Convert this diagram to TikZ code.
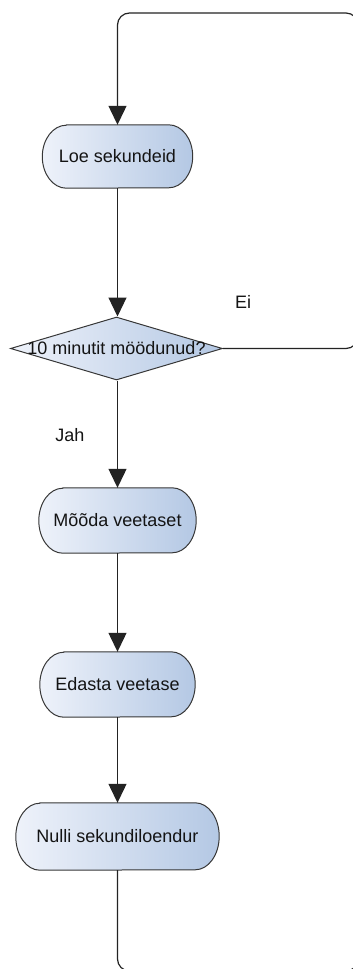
\documentclass[tikz,border=0pt]{standalone}
\usepackage{fontspec}
\setmainfont{Liberation Sans}
\usetikzlibrary{arrows.meta,shapes.geometric,calc,backgrounds}
\definecolor{boxedge}{RGB}{55,55,55}
\definecolor{flowline}{RGB}{35,35,35}
\definecolor{shadelight}{RGB}{238,242,250}
\definecolor{shadedark}{RGB}{180,200,228}
\definecolor{labeltext}{RGB}{20,20,20}
% outline of a step box: straight top and bottom, elliptic ends
% #1 node name, #2 half height
\newcommand\stepoutline[2]{%
  \path[stepshape] ($(#1.north west)+(24pt,0pt)$) -- ($(#1.north east)+(-24pt,0pt)$)
    arc[start angle=90,end angle=-90,x radius=24pt,y radius=#2]
    -- ($(#1.south west)+(24pt,0pt)$)
    arc[start angle=270,end angle=90,x radius=24pt,y radius=#2] -- cycle;}
\begin{document}
\begin{tikzpicture}[x=1pt,y=-1pt,
  action/.style={inner sep=0pt, font=\fontsize{18}{20}\selectfont, text=labeltext},
  stepshape/.style={draw=boxedge, line width=1pt,
    left color=shadelight, right color=shadedark},
  decision/.style={diamond, draw=boxedge, line width=1pt,
    left color=shadelight, right color=shadedark, inner sep=0pt},
  lbl/.style={font=\fontsize{18}{20}\selectfont, text=labeltext},
  flow/.style={draw=flowline, line width=1.2pt,
    -{Triangle[length=19pt,width=18pt]}},
  plain/.style={draw=flowline, line width=1.2pt},
]
\useasboundingbox (0,0) rectangle (353,969);
\clip (0,0) rectangle (353,969);

% process steps
\node[action, minimum width=150pt, minimum height=63pt] (loe) at (117.5,156.5) {Loe sekundeid};
\node[decision, minimum width=212pt, minimum height=63pt,
  label={[lbl]center:10 minutit möödunud?}] (dec) at (116.5,348.5) {};
\node[action, minimum width=157pt, minimum height=65pt] (mooda) at (117.5,520.5) {Mõõda veetaset};
\node[action, minimum width=155pt, minimum height=65pt] (edasta) at (117.5,684.5) {Edasta veetase};
\node[action, minimum width=203pt, minimum height=67pt] (nulli) at (117.5,836.5) {Nulli sekundiloendur};

\begin{scope}[on background layer]
  \stepoutline{loe}{31.5pt}
  \stepoutline{mooda}{32.5pt}
  \stepoutline{edasta}{32.5pt}
  \stepoutline{nulli}{33.5pt}
\end{scope}

% branch labels
\node[lbl] (ei) at (243,302) {Ei};
\node[lbl] (jah) at (70,435) {Jah};

% main sequence
\draw[flow] (loe) -- (loe |- dec.north);
\draw[flow] (loe |- dec.south) -- (mooda);
\draw[flow] (mooda) -- (edasta);
\draw[flow] (edasta) -- (nulli);

% "Ei" branch loops back to the first step
\coordinate (eiturn) at (358,348.5);
\coordinate (topright) at (358,13);
\coordinate (topleft) at (117.5,13);
\draw[flow, rounded corners=12pt] (dec.east) -- (eiturn) -- (topright) -- (topleft) -- (loe.north);

% return from the last step
\coordinate (bottomleft) at (117.5,971);
\coordinate (bottomright) at (358,971);
\draw[plain, rounded corners=12pt] (nulli.south) -- (bottomleft) -- (bottomright) -- (eiturn);
\end{tikzpicture}
\end{document}
